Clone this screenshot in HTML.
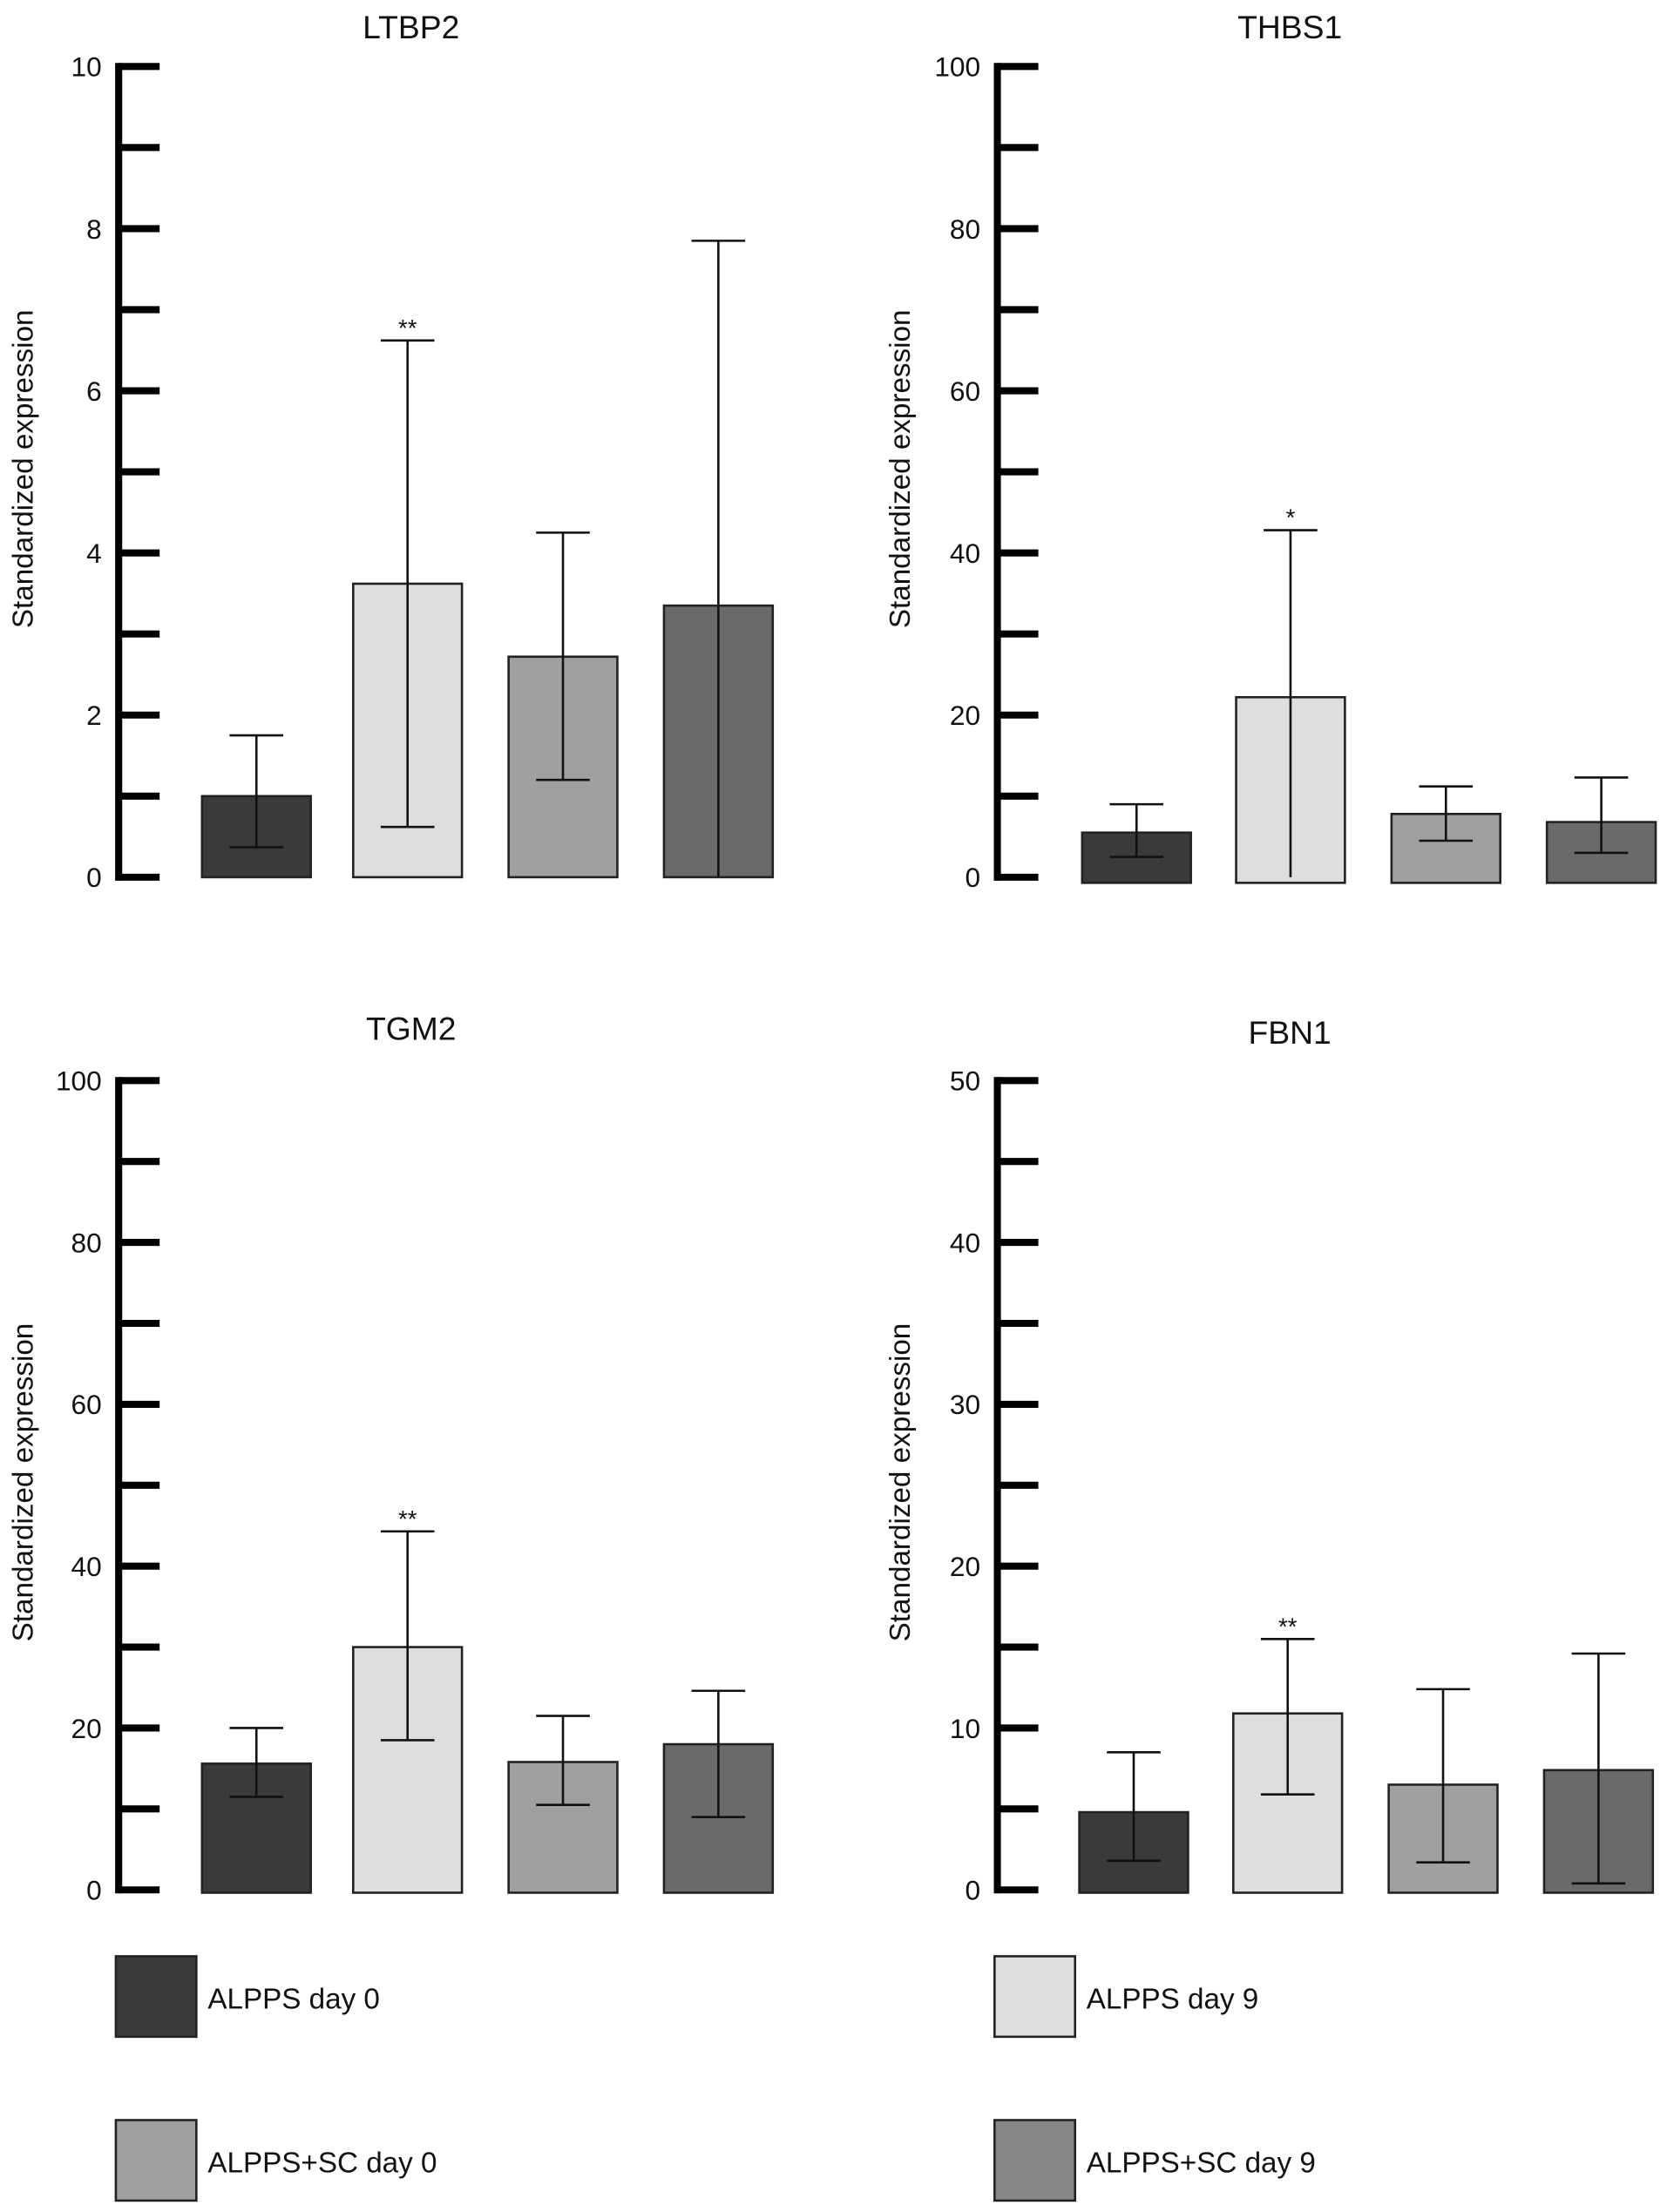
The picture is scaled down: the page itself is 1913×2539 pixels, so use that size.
<!DOCTYPE html>
<html><head><meta charset="utf-8"><style>
html,body{margin:0;padding:0;background:#fff;}
svg{display:block;font-family:"Liberation Sans",sans-serif;}
</style></head><body>
<svg id="fig" width="1913" height="2539" viewBox="0 0 1180 1566" xmlns="http://www.w3.org/2000/svg"></svg>
<script>
const titles = ["LTBP2","THBS1","TGM2","FBN1"];
const yMax = [10,100,100,50];
const tickStep = [2,20,20,10];
const means = [[1.0,3.62,2.72,3.35],[5.5,22.2,7.8,6.8],[15.6,30.0,15.8,18.0],[4.8,10.9,6.5,7.4]];
const errLow = [[0.37,0.62,1.2,0.0],[2.5,0.0,4.5,3.0],[11.5,18.5,10.5,9.0],[1.8,5.9,1.7,0.4]];
const errHigh = [[1.75,6.62,4.25,7.85],[9.0,42.8,11.2,12.3],[20.0,44.3,21.5,24.6],[8.5,15.5,12.4,14.6]];
const stars = [["","**","",""],["","*","",""],["","**","",""],["","**","",""]];
const groups = ["ALPPS day 0","ALPPS day 9","ALPPS+SC day 0","ALPPS+SC day 9"];
const colors = ["#3a3a3a","#dedede","#a0a0a0","#6a6a6a"];
const legendColors = ["#3a3a3a","#dedede","#a0a0a0","#878787"];

const svg = document.getElementById('fig');
const NS = "http://www.w3.org/2000/svg";
function mk(tag, attrs, parent){const e=document.createElementNS(NS,tag);for(const k in attrs)e.setAttribute(k,attrs[k]);parent.appendChild(e);return e;}

const panels = [
  {ax:84, top:47, bot:621, title:[291,27], ylab:17, barOff:0, barX:[143,250,360,470]},
  {ax:706, top:47, bot:621, title:[913,27], ylab:638, barOff:4, barX:[766,875,985,1095]},
  {ax:84, top:765, bot:1338, title:[291,736], ylab:17, barOff:2, barX:[143,250,360,470]},
  {ax:706, top:765, bot:1338, title:[913,739], ylab:638, barOff:2, barX:[764,873,983,1093]}
];
const bw = 77;

panels.forEach((p,i)=>{
  const g = mk('g',{},svg);
  
  
  const y = v => p.bot - (v/yMax[i])*(p.bot-p.top);
  const t = mk('text',{x:p.title[0],y:p.title[1],'text-anchor':'middle','font-size':23,fill:'#111'},g);
  t.textContent = titles[i];
  
  
  const yl = mk('text',{x:0,y:0,transform:`translate(${p.ylab+6},${(p.top+p.bot)/2-2}) rotate(-90)`,'text-anchor':'middle','font-size':20.5,fill:'#111'},g);
  yl.textContent = 'Standardized expression';
  
  
  const axis = mk('line',{x1:p.ax,y1:p.top-2.5,x2:p.ax,y2:p.bot+2.5,stroke:'#000','stroke-width':5},g);
  
  
  const half = tickStep[i]/2;
  for(let v=0; v<=yMax[i]+1e-9; v+=half){
    const tk = mk('line',{x1:p.ax,y1:y(v),x2:p.ax+29,y2:y(v),stroke:'#000','stroke-width':5},g);
    
    
    if(Math.abs(v/tickStep[i]-Math.round(v/tickStep[i]))<1e-6){
      const tl = mk('text',{x:p.ax-12,y:y(v)+7,'text-anchor':'end','font-size':19.5,fill:'#111'},g);
      tl.textContent = String(Math.round(v));
      
      
    }
  }
  for(let j=0;j<4;j++){
    const x0 = p.barX[j], cx = x0+bw/2, base = p.bot+p.barOff;
    const r = mk('rect',{x:x0,y:y(means[i][j]),width:bw,height:base-y(means[i][j]),fill:colors[j],stroke:'#222','stroke-width':1.6},g);
    
    
    const lo = y(errLow[i][j]), hi = y(errHigh[i][j]);
    const ew = mk('path',{d:`M${cx},${Math.min(lo,base)}V${hi}M${cx-19},${hi}H${cx+19}`+(errLow[i][j]>0?`M${cx-19},${lo}H${cx+19}`:''),stroke:'#111','stroke-width':1.6,fill:'none'},g);
    
    
    if(stars[i][j]){
      const s = mk('text',{x:cx,y:hi-3,'text-anchor':'middle','font-size':17,fill:'#111'},g);
      s.textContent = stars[i][j];
      
      
    }
  }
});

const legPos = [[82,1385],[704,1385],[82,1501],[704,1501]];
groups.forEach((name,j)=>{
  const g = mk('g',{},svg);
  
  
  const [lx,ly] = legPos[j];
  const r = mk('rect',{x:lx,y:ly,width:57,height:57,fill:legendColors[j],stroke:'#222','stroke-width':1.6},g);
  
  
  const t = mk('text',{x:lx+65,y:ly+37,'font-size':20.5,fill:'#111'},g);
  t.textContent = name;
  
  
});
</script>
</body></html>
